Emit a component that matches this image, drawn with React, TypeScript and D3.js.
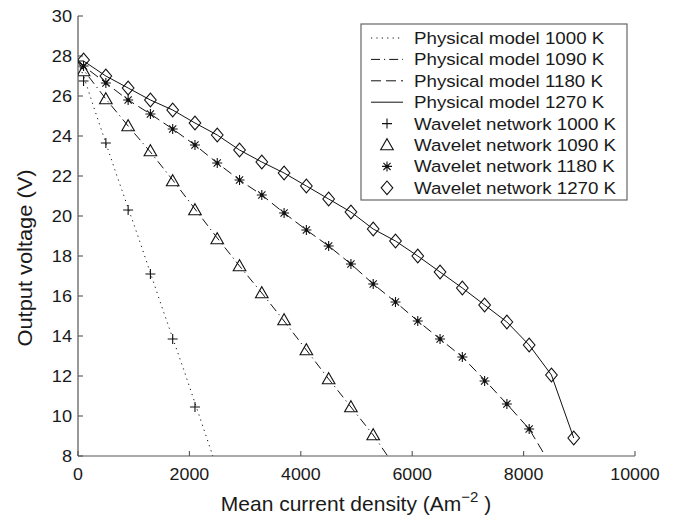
import React from "react";
import * as d3 from "d3";

const W = 676;
const H = 517;

// Tick values
const xTicks = [0, 2000, 4000, 6000, 8000, 10000];
const yTicks = [8, 10, 12, 14, 16, 18, 20, 22, 24, 26, 28, 30];

// Physical model curves (current density, voltage)
const pm1000I = [0, 100, 300, 700, 1100, 1500, 1900, 2300, 2420];
const pm1000V = [27.7, 27.0, 25.3, 22.0, 18.8, 15.5, 12.3, 9.0, 8.0];

const pm1090I = [0, 100, 500, 900, 1300, 1700, 2100, 2500, 2900, 3300, 3700, 4100, 4500, 4900, 5300, 5560];
const pm1090V = [27.7, 27.3, 25.85, 24.5, 23.2, 21.8, 20.35, 18.9, 17.5, 16.15, 14.75, 13.3, 11.85, 10.45, 9.05, 8.0];

const pm1180I = [0, 100, 500, 900, 1300, 1700, 2100, 2500, 2900, 3300, 3700, 4100, 4500, 4900, 5300, 5700, 6100, 6500, 6900, 7300, 7700, 8100, 8390];
const pm1180V = [27.7, 27.5, 26.65, 25.8, 25.1, 24.35, 23.55, 22.65, 21.8, 21.05, 20.15, 19.3, 18.5, 17.6, 16.6, 15.7, 14.75, 13.85, 12.95, 11.8, 10.6, 9.35, 8.0];

const pm1270I = [0, 100, 500, 900, 1300, 1700, 2100, 2500, 2900, 3300, 3700, 4100, 4500, 4900, 5300, 5700, 6100, 6500, 6900, 7300, 7700, 8100, 8500, 8900];
const pm1270V = [27.75, 27.75, 27.0, 26.4, 25.8, 25.3, 24.65, 24.05, 23.3, 22.7, 22.15, 21.5, 20.85, 20.2, 19.35, 18.75, 18.0, 17.2, 16.4, 15.55, 14.7, 13.55, 12.05, 8.9];

// Wavelet network points
const wn1000I = [100, 500, 900, 1300, 1700, 2100];
const wn1000V = [26.75, 23.65, 20.3, 17.1, 13.85, 10.45];

const wn1090I = [100, 500, 900, 1300, 1700, 2100, 2500, 2900, 3300, 3700, 4100, 4500, 4900, 5300];
const wn1090V = [27.25, 25.85, 24.5, 23.25, 21.75, 20.3, 18.85, 17.5, 16.15, 14.8, 13.3, 11.85, 10.45, 9.05];

const wn1180I = [100, 500, 900, 1300, 1700, 2100, 2500, 2900, 3300, 3700, 4100, 4500, 4900, 5300, 5700, 6100, 6500, 6900, 7300, 7700, 8100];
const wn1180V = [27.5, 26.65, 25.8, 25.1, 24.35, 23.55, 22.65, 21.8, 21.05, 20.15, 19.3, 18.5, 17.6, 16.6, 15.7, 14.75, 13.85, 12.95, 11.75, 10.6, 9.35];

const wn1270I = [100, 500, 900, 1300, 1700, 2100, 2500, 2900, 3300, 3700, 4100, 4500, 4900, 5300, 5700, 6100, 6500, 6900, 7300, 7700, 8100, 8500, 8900];
const wn1270V = [27.8, 27.0, 26.4, 25.8, 25.3, 24.65, 24.05, 23.3, 22.7, 22.15, 21.5, 20.85, 20.2, 19.35, 18.75, 18.0, 17.2, 16.4, 15.55, 14.7, 13.55, 12.05, 8.9];

const legendLabels = [
  "Physical model 1000 K",
  "Physical model 1090 K",
  "Physical model 1180 K",
  "Physical model 1270 K",
  "Wavelet network 1000 K",
  "Wavelet network 1090 K",
  "Wavelet network 1180 K",
  "Wavelet network 1270 K",
];

const FONT = "'Liberation Sans', Arial, Helvetica, sans-serif";
const TXT = "#1a1a1a";
const AX = "#555";

const PL = 78, PR = 635, PT = 16, PB = 456;

const x = d3.scaleLinear().domain([0, 10000]).range([PL, PR]);
const y = d3.scaleLinear().domain([8, 30]).range([PB, PT]);

const zip = (a: number[], b: number[]) => a.map((v, i) => [v, b[i]] as [number, number]);

const line = d3
  .line<[number, number]>()
  .x((d) => x(d[0]))
  .y((d) => y(d[1]));

const dashes = ["1.2,4.2", "9,4,1.2,4", "10,5", ""];

type MK = "plus" | "tri" | "star" | "diamond";

function Marker({ type, cx, cy }: { type: MK; cx: number; cy: number }) {
  const s = { stroke: "#111", strokeWidth: 1.1, fill: "none" };
  if (type === "plus") {
    const r = 5;
    return (
      <path d={`M${cx - r},${cy}H${cx + r}M${cx},${cy - r}V${cy + r}`} {...s} />
    );
  }
  if (type === "tri") {
    const w = 6.3, h = 6.3;
    return (
      <path
        d={`M${cx},${cy - h}L${cx + w},${cy + h * 0.75}L${cx - w},${cy + h * 0.75}Z`}
        {...s}
      />
    );
  }
  if (type === "star") {
    const r = 5, q = 3.6;
    return (
      <g>
        <path
          d={`M${cx - r},${cy}H${cx + r}M${cx},${cy - r}V${cy + r}M${cx - q},${cy - q}L${cx + q},${cy + q}M${cx - q},${cy + q}L${cx + q},${cy - q}`}
          {...s}
        />
        <circle cx={cx} cy={cy} r={1.7} fill="#111" />
      </g>
    );
  }
  const w = 5.8, h = 6.8;
  return (
    <path
      d={`M${cx},${cy - h}L${cx + w},${cy}L${cx},${cy + h}L${cx - w},${cy}Z`}
      {...s}
    />
  );
}

function SText({
  x: tx,
  y: ty,
  sx = 1,
  size,
  anchor = "start",
  children,
}: {
  x: number;
  y: number;
  sx?: number;
  size: number;
  anchor?: string;
  children: React.ReactNode;
}) {
  return (
    <text
      transform={`translate(${tx},${ty}) scale(${sx},1)`}
      fontSize={size}
      fontFamily={FONT}
      fill={TXT}
      textAnchor={anchor as any}
    >
      {children}
    </text>
  );
}

export default function App() {
  const models = [
    zip(pm1000I, pm1000V),
    zip(pm1090I, pm1090V),
    zip(pm1180I, pm1180V),
    zip(pm1270I, pm1270V),
  ];
  const nets: { pts: [number, number][]; mk: MK }[] = [
    { pts: zip(wn1000I, wn1000V), mk: "plus" },
    { pts: zip(wn1090I, wn1090V), mk: "tri" },
    { pts: zip(wn1180I, wn1180V), mk: "star" },
    { pts: zip(wn1270I, wn1270V), mk: "diamond" },
  ];
  const mkOrder: MK[] = ["plus", "tri", "star", "diamond"];

  const legX = 361, legY = 24, legW = 266, legH = 176;
  const rowY0 = 38, rowStep = 21.4;

  return (
    <svg
      width={W}
      height={H}
      style={{ position: "absolute", left: 0, top: 0, background: "#fff" }}
    >
      <defs>
        <clipPath id="plot">
          <rect x={PL} y={PT - 10} width={PR - PL + 10} height={PB - PT + 10} />
        </clipPath>
      </defs>
      <rect width={W} height={H} fill="#fff" />

      {/* axes */}
      <line x1={PL} x2={PL} y1={PT} y2={PB} stroke={AX} strokeWidth={1.2} />
      <line x1={PL} x2={PR} y1={PB} y2={PB} stroke={AX} strokeWidth={1.2} />
      {xTicks.map((t) => (
        <g key={"xt" + t}>
          <line x1={x(t)} x2={x(t)} y1={PB} y2={PB - 5} stroke={AX} strokeWidth={1.1} />
          <SText x={x(t)} y={479.5} size={16.5} sx={1.08} anchor="middle">
            {t}
          </SText>
        </g>
      ))}
      {yTicks.map((t) => (
        <g key={"yt" + t}>
          <line x1={PL} x2={PL + 5} y1={y(t)} y2={y(t)} stroke={AX} strokeWidth={1.1} />
          <SText x={72} y={y(t) + 6.3} size={16.5} sx={1.1} anchor="end">
            {t}
          </SText>
        </g>
      ))}

      {/* axis labels */}
      <text
        transform={`translate(${356},${511}) scale(1.0,1)`}
        fontSize={21}
        fontFamily={FONT}
        fill={TXT}
        textAnchor="middle"
      >
        Mean current density (Am
        <tspan dy={-9} fontSize={15}>−2</tspan>
        <tspan dy={9}> )</tspan>
      </text>
      <text
        transform={`translate(${32},${258}) rotate(-90) scale(1.04,1)`}
        fontSize={21}
        fontFamily={FONT}
        fill={TXT}
        textAnchor="middle"
      >
        Output voltage (V)
      </text>

      {/* model lines */}
      <g clipPath="url(#plot)">
        {models.map((pts, i) => (
          <path
            key={"m" + i}
            d={line(pts) || ""}
            fill="none"
            stroke="#111"
            strokeWidth={1}
            strokeDasharray={dashes[i] || undefined}
          />
        ))}
        {nets.map((n, i) =>
          n.pts.map((p, j) => (
            <Marker key={`n${i}-${j}`} type={n.mk} cx={x(p[0])} cy={y(p[1])} />
          ))
        )}
      </g>

      {/* legend */}
      <rect x={legX} y={legY} width={legW} height={legH} fill="#fff" stroke="#666" strokeWidth={1.2} />
      {legendLabels.map((lab, i) => {
        const cy = rowY0 + i * rowStep;
        return (
          <g key={"lg" + i}>
            {i < 4 ? (
              <line
                x1={371}
                x2={403}
                y1={cy}
                y2={cy}
                stroke="#111"
                strokeWidth={1}
                strokeDasharray={dashes[i] || undefined}
              />
            ) : (
              <Marker type={mkOrder[i - 4]} cx={387} cy={cy} />
            )}
            <SText x={414} y={cy + 6} size={16.5} sx={1.135}>
              {lab}
            </SText>
          </g>
        );
      })}
    </svg>
  );
}
